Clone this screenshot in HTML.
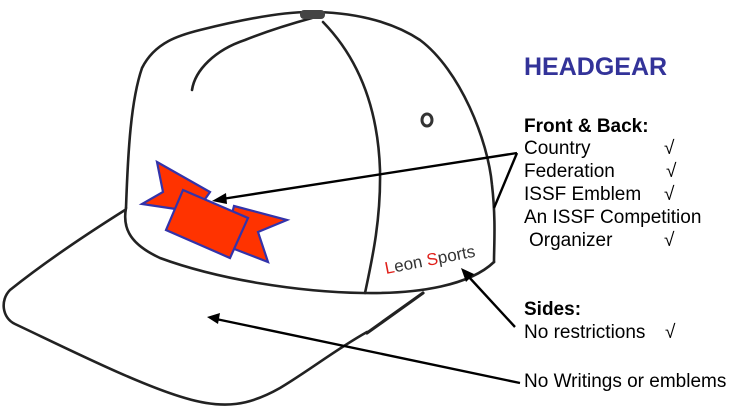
<!DOCTYPE html>
<html><head><style>
html,body{margin:0;padding:0;background:#fff;width:731px;height:411px;overflow:hidden}
svg{display:block}
text{font-family:"Liberation Sans",Arial,sans-serif}
</style></head><body>
<svg width="731" height="411" viewBox="0 0 731 411" xmlns="http://www.w3.org/2000/svg">
<g fill="none" stroke="#222" stroke-width="2.6" stroke-linecap="round" stroke-linejoin="round">
<path d="M126,208 C128,150 131,100 142,68 C155,42 180,35 200,30 C240,20 280,12 310,12 C350,12 390,20 420,40 C460,70 488,140 492,185 C496,220 494,245 494,262"/>
<path d="M126,208 C122,230 132,245 160,258 C220,280 300,292 363,293 C420,294 470,285 494,262"/>
<path d="M323,22 C360,60 378,110 380,170 C381,220 372,260 365,293"/>
<path d="M192,90 C195,70 215,50 245,40 C270,30 290,24 312,18"/>
<path d="M125,210 C90,232 45,262 10,290 C0,300 2,318 15,324 C70,350 140,385 185,398 C225,410 250,405 280,388 C310,370 335,350 367,332"/>
<path d="M367,333 L423,293" stroke-width="3.2"/>
</g>
<rect x="300" y="10" width="25" height="9" rx="4" fill="#444"/>
<ellipse cx="427" cy="120" rx="5" ry="6" fill="none" stroke="#333" stroke-width="3"/>
<g fill="#ff3300" stroke="#3333aa" stroke-width="2.2" stroke-linejoin="miter">
<path d="M157,162 L210,192 L196,212 L142,204 L163,192 Z"/>
<path d="M234,206 L287,220 L258,232 L268,262 L224,245 Z"/>
<path d="M183,190 L248,218 L230,258 L166,230 Z"/>
</g>
<g stroke="#000" stroke-width="2.4" fill="none">
<path d="M517,153 L222,199"/>
<path d="M517,153 L494,208"/>
<path d="M515,327 L468,276"/>
<path d="M520,383 L216,319"/>
</g>
<g fill="#000">
<polygon points="212,201 226,193 227,204"/>
<polygon points="461,268 474,274 466,282"/>
<polygon points="207,317 220,313 218,324"/>
</g>
<text transform="translate(386,274) rotate(-11)" font-size="17" fill="#333"><tspan fill="#e0201a">L</tspan>eon <tspan fill="#e0201a">S</tspan>ports</text>
<text x="524" y="75" font-size="25" font-weight="bold" fill="#333399">HEADGEAR</text>
<g font-size="19" fill="#000">
<text x="524" y="132" font-weight="bold">Front &amp; Back:</text>
<text x="524" y="154">Country</text><text x="664" y="154">√</text>
<text x="524" y="177">Federation</text><text x="666" y="177">√</text>
<text x="524" y="200">ISSF Emblem</text><text x="664" y="200">√</text>
<text x="524" y="223">An ISSF Competition</text>
<text x="529" y="246">Organizer</text><text x="664" y="246">√</text>
<text x="524" y="315" font-weight="bold">Sides:</text>
<text x="524" y="338">No restrictions</text><text x="665" y="338">√</text>
<text x="524" y="387">No Writings or emblems</text>
</g>
</svg>
</body></html>
